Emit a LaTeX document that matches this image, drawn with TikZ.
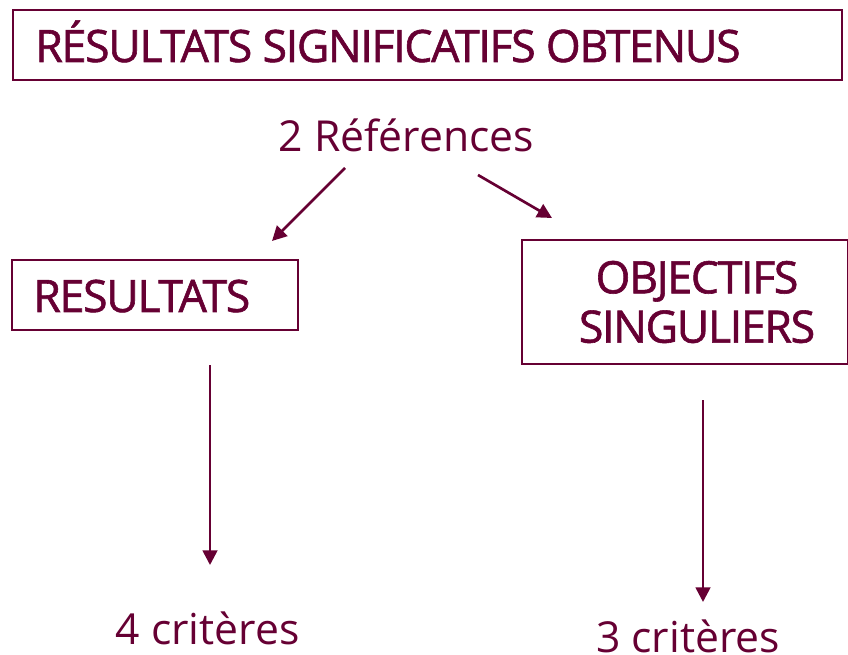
\documentclass[tikz,border=0pt]{standalone}
\usepackage{fontspec}
\setmainfont{Open Sans}
\newfontfamily\capsfont[FakeBold=1.3, LetterSpace=-3]{Open Sans}
\usetikzlibrary{arrows.meta, positioning}
\definecolor{wine}{RGB}{102, 0, 51}

\begin{document}
\begin{tikzpicture}[x=0.75pt, y=-0.75pt,
    txtstyle/.style={text=wine, inner sep=0pt},
    capstyle/.style={text=wine, inner sep=0pt, font=\capsfont\fontsize{33.5}{37}\selectfont},
    framestyle/.style={draw=wine, line width=1.5pt},
    arrowstyle/.style={wine, line width=2pt, -{Triangle[length=11pt, width=11pt]}}]
    \useasboundingbox (0,0) rectangle (848,655);
    % Title
    \node[framestyle, minimum width=829*0.75pt, minimum height=70*0.75pt] (titlebox) at (427.5, 45) {};
    \node[capstyle, anchor=base west] (title) at (35, 62) {RÉSULTATS SIGNIFICATIFS OBTENUS};

    % References
    \node[txtstyle, font=\fontsize{32}{38}\selectfont] (refs) at (406.5, 135) {2 Références};
    \coordinate (refl) at (345, 168);
    \coordinate (refr) at (478, 175);

    % Left branch
    \node[framestyle, minimum width=286*0.75pt, minimum height=70*0.75pt] (resbox) at (155, 295) {};
    \node[capstyle, anchor=base west] (res) at (33, 312) {RESULTATS};
    \coordinate (resin) at (272, 241);
    \node[txtstyle, font=\fontsize{32}{38}\selectfont] (crit4) at (207.5, 628) {4 critères};

    % Right branch
    \node[framestyle, minimum width=326*0.75pt, minimum height=124*0.75pt] (objbox) at (685, 302) {};
    \node[capstyle, align=center] (obj) at (697, 302) {OBJECTIFS\\SINGULIERS};
    \coordinate (objin) at (552, 218);
    \node[txtstyle, font=\fontsize{32}{38}\selectfont] (crit3) at (688, 636) {3 critères};

    % Arrows
    \draw[arrowstyle] (refl) -- (resin);
    \draw[arrowstyle] (refr) -- (objin);
    \draw[arrowstyle] (210, 365) -- (210, 565);
    \draw[arrowstyle] (703, 400) -- (703, 602);
\end{tikzpicture}
\end{document}
